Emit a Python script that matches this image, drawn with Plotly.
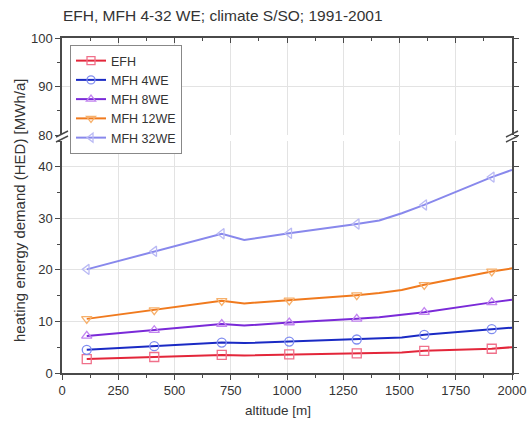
import plotly.graph_objects as go

# ---- data ----
altitude = [110, 410, 710, 810, 1010, 1310, 1410, 1510, 1610, 1910, 2000]
measured = [True, True, True, False, True, True, False, False, True, True, False]

series_names = ["EFH", "MFH 4WE", "MFH 8WE", "MFH 12WE", "MFH 32WE"]
efh = [2.7, 3.1, 3.5, 3.4, 3.6, 3.8, 3.9, 4.0, 4.3, 4.7, 5.0]
mfh4 = [4.5, 5.2, 5.9, 5.8, 6.1, 6.5, 6.7, 6.9, 7.4, 8.5, 8.8]
mfh8 = [7.2, 8.3, 9.5, 9.2, 9.8, 10.5, 10.8, 11.3, 11.8, 13.7, 14.2]
mfh12 = [10.5, 12.2, 14.0, 13.5, 14.1, 15.1, 15.5, 16.1, 17.1, 19.7, 20.3]
mfh32 = [20.1, 23.6, 27.0, 25.8, 27.1, 28.9, 29.6, 31.0, 32.6, 38.0, 39.4]
series_values = [efh, mfh4, mfh8, mfh12, mfh32]

x_ticks = [0, 250, 500, 750, 1000, 1250, 1500, 1750, 2000]
y_low_ticks = [0, 10, 20, 30, 40]
y_high_ticks = [80, 90, 100]

# ---- styles ----
line_colors = ["#e3263a", "#1a2ac4", "#7a2ad8", "#f07a1e", "#8888ec"]
marker_colors = ["#f0708a", "#7f8cf0", "#c284f0", "#f7b06a", "#babaf4"]
symbols = ["square-open", "circle-open", "triangle-up-open",
           "triangle-down-open", "triangle-left-open"]

W, H = 527, 423
# plot area in window pixels: x 62..512, y 38..373
PL, PR, PT, PB = 62, 512, 38, 373
pw, ph = PR - PL, PB - PT
ml, mt = PL, PT
mr = W - ml - pw
mb = H - mt - ph


def fx(p):
    return (p - PL) / pw


def fy(p):
    return (PB - p) / ph


low_top = fy(141)
high_bottom = fy(135)

fig = go.Figure()
for name, vals, lc, mc, sym in zip(series_names, series_values, line_colors,
                                   marker_colors, symbols):
    fig.add_trace(go.Scatter(x=altitude, y=vals, mode="lines",
                             line=dict(color=lc, width=2), showlegend=False,
                             hoverinfo="skip"))
    mx = [a for a, m in zip(altitude, measured) if m]
    my = [v for v, m in zip(vals, measured) if m]
    fig.add_trace(go.Scatter(x=mx, y=my, mode="markers",
                             marker=dict(symbol=sym, size=9, color=mc,
                                         line=dict(width=1.3, color=mc)),
                             showlegend=False))
    fig.add_trace(go.Scatter(x=[None], y=[None], mode="lines+markers", name=name,
                             line=dict(color=lc, width=2),
                             marker=dict(symbol=sym, size=8, color=mc,
                                         line=dict(width=1.3, color=mc)),
                             xaxis="x2", yaxis="y2"))

axis_col = "#4a4a4a"
grid_col = "#e3e3e3"
tickfont = dict(family="Liberation Sans, Arial", size=13, color="#333")

fig.update_layout(
    width=W, height=H,
    margin=dict(l=ml, r=mr, t=mt, b=mb, autoexpand=False),
    paper_bgcolor="white", plot_bgcolor="white",
    font=dict(family="Liberation Sans, Arial", size=12, color="#333"),
    title=dict(text="EFH, MFH 4-32 WE; climate S/SO; 1991-2001",
               x=63 / W, xanchor="left", y=1 - 16 / H,
               yanchor="middle", font=dict(size=15.5, color="#333")),
    xaxis=dict(range=[0, 2000], tickvals=x_ticks, ticks="outside", ticklen=5,
               tickcolor=axis_col, showline=True, linecolor=axis_col, linewidth=1.5,
               showgrid=True, gridcolor=grid_col, zeroline=False,
               minor=dict(dtick=125, ticks="outside", ticklen=3, tickcolor=axis_col,
                          showgrid=False),
               tickfont=tickfont, anchor="y"),
    xaxis2=dict(range=[0, 2000], tickvals=x_ticks, ticks="inside", ticklen=5,
                tickcolor=axis_col, showline=True, linecolor=axis_col, linewidth=1.5,
                showgrid=True, gridcolor=grid_col, zeroline=False, side="top",
                showticklabels=False, matches="x", anchor="y2",
                minor=dict(dtick=125, ticks="inside", ticklen=3, tickcolor=axis_col,
                           showgrid=False)),
    yaxis=dict(domain=[0, low_top], range=[0, 45], tickvals=y_low_ticks,
               ticks="outside", ticklen=5, tickcolor=axis_col, showline=True,
               linecolor=axis_col, linewidth=1.5, mirror="allticks",
               showgrid=True, gridcolor=grid_col, zeroline=False,
               minor=dict(dtick=5, ticks="outside", ticklen=3, tickcolor=axis_col),
               tickfont=tickfont, anchor="x"),
    yaxis2=dict(domain=[high_bottom, 1], range=[80, 100], tickvals=y_high_ticks,
                ticks="outside", ticklen=5, tickcolor=axis_col, showline=True,
                linecolor=axis_col, linewidth=1.5, mirror="allticks",
                showgrid=True, gridcolor=grid_col, zeroline=False,
                minor=dict(dtick=5, ticks="outside", ticklen=3, tickcolor=axis_col),
                tickfont=tickfont, anchor="x2"),
    legend=dict(x=fx(70), y=fy(45), xanchor="left", yanchor="top",
                bordercolor="#888", borderwidth=1, bgcolor="white",
                font=dict(size=12.5, color="#333"), tracegroupgap=0,
                itemwidth=30),
    showlegend=True,
)

# axis titles
fig.add_annotation(text="heating energy demand (HED) [MWh/a]", textangle=-90,
                   xref="paper", yref="paper", x=fx(19), y=fy(211),
                   xanchor="center", yanchor="middle", showarrow=False,
                   font=dict(size=15, color="#333"))
fig.add_annotation(text="altitude [m]", xref="paper", yref="paper",
                   x=fx(278), y=fy(410), xanchor="center", yanchor="middle",
                   showarrow=False, font=dict(size=13.5, color="#333"))

# axis break marks
for xp in (PL, PR):
    for yc in (134, 139):
        fig.add_shape(type="line", xref="paper", yref="paper",
                      x0=fx(xp - 6), x1=fx(xp + 6),
                      y0=fy(yc + 3), y1=fy(yc - 3),
                      line=dict(color=axis_col, width=1.5))

fig.write_html("out.html",
               config={"displayModeBar": False},
               post_script="document.body.style.margin='0';"
                           "document.body.style.overflow='hidden';")
